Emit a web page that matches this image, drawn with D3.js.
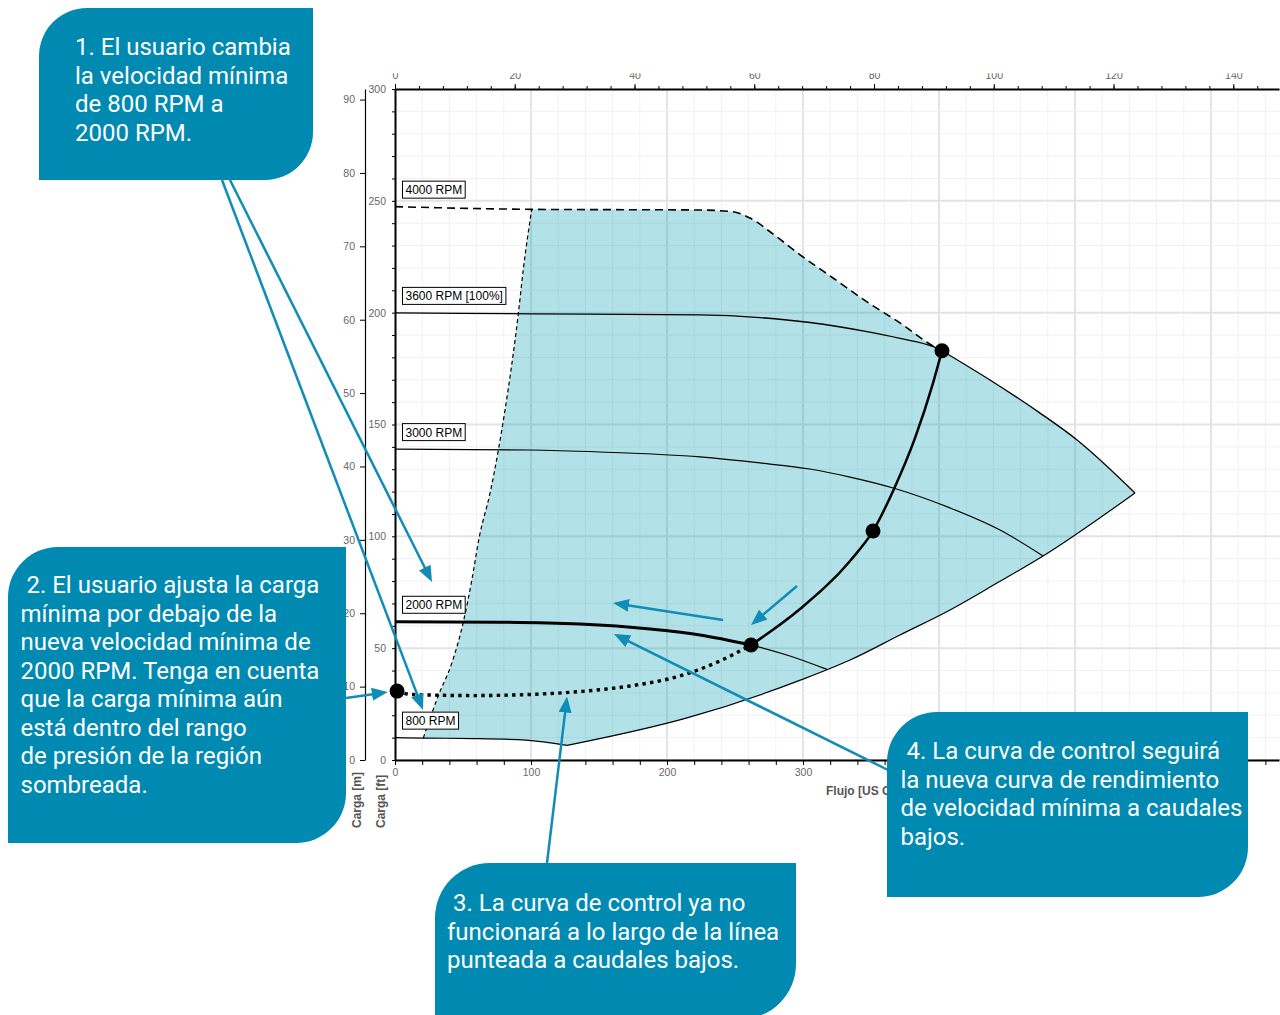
<!DOCTYPE html>
<html lang="es">
<head>
<meta charset="utf-8">
<title>Curva de control – velocidad mínima</title>
<script src="https://cdn.jsdelivr.net/npm/d3@7/dist/d3.min.js"></script>
<style>
  html, body { margin: 0; padding: 0; background: #ffffff; }
  svg { display: block; }
  .tick text { fill: #666; font: 10.5px "Liberation Sans", Arial, sans-serif; }
</style>
</head>
<body>
<svg id="chart" width="1280" height="1015"></svg>
<script>
// ---------- Data: flow in US GPM, head in ft ----------
const curve4000 = [[0,247.4],[100.5,246.2],[224.3,245.9],[248.5,245.1],[261.0,242.3],[280.9,233.8],[300.0,224.9],[322.1,215.5],[347.1,204.8],[371.3,195.4],[395.6,185.1],[402.2,183.0]];
const curve3600 = [[0,199.9],[100.7,199.5],[224.3,199.0],[268.4,197.8],[305.1,195.6],[347.1,191.5],[371.3,188.5],[395.8,184.8],[402.2,183.0]];
const rightLimit = [[402.2,183.0],[437.5,169.9],[474.3,155.1],[501.5,143.1],[544.1,119.4]];
const curve3000 = [[0,139.0],[99.3,138.6],[150.7,137.7],[224.3,135.5],[268.4,132.8],[305.1,130.1],[334.6,126.5],[367.6,121.4],[408.1,112.7],[444.9,102.8],[476.5,91.2]];
const curve2000 = [[0,61.8],[77.2,61.6],[136.0,60.8],[187.5,58.6],[224.3,55.9],[261.8,51.4],[290.4,46.5],[317.6,40.5]];
const curve800  = [[0,10.0],[20.8,9.8],[57.4,9.6],[96.3,8.9],[126.5,6.5]];
const minFlow   = [[20.8,9.8],[31.8,28.7],[41.7,43.2],[50.2,61.6],[56.5,80.5],[62.0,99.8],[69.9,119.4],[76.0,138.6],[80.9,156.5],[90.7,199.7],[94.3,219.1],[100.5,246.2]];
const lowLimit  = [[126.5,6.5],[214.7,18.8],[298.5,35.8],[334.6,44.7],[371.3,55.9],[408.1,67.1],[442.6,79.1],[476.5,91.2],[544.1,119.4]];
const controlCurve = [[261.8,51.4],[297.8,67.5],[334.6,89.0],[351.5,102.4],[366.9,121.2],[382.4,144.0],[395.6,168.5],[402.2,183.0]];
const oldControl   = [[1.5,30.8],[12.5,29.3],[57.4,28.8],[99.3,29.3],[136.0,30.6],[172.8,33.1],[209.6,37.6],[239.0,44.3],[261.8,51.4]];
const controlPoints = [[1.5,30.8],[261.8,51.4],[351.5,102.4],[402.2,183.0]];
const rpmLabels = ["4000 RPM", "3600 RPM [100%]", "3000 RPM", "2000 RPM", "800 RPM"];
const bottomTicks = [0, 100, 200, 300];
const topTicks = [0, 20, 40, 60, 80, 100, 120, 140];
const ftTicks = [0, 50, 100, 150, 200, 250, 300];
const mTicks = [0, 10, 20, 30, 40, 50, 60, 70, 80, 90];
const calloutTexts = [
  ["1. El usuario cambia", "la velocidad mínima", "de 800 RPM a", "2000 RPM."],
  [" 2. El usuario ajusta la carga", "mínima por debajo de la", "nueva velocidad mínima de", "2000 RPM. Tenga en cuenta", "que la carga mínima aún", "está dentro del rango", "de presión de la región", "sombreada."],
  [" 3. La curva de control ya no", "funcionará a lo largo de la línea", "punteada a caudales bajos."],
  [" 4. La curva de control seguirá", "la nueva curva de rendimiento", "de velocidad mínima a caudales", "bajos."]
];

// ---------- Scales ----------
const GPM_TO_M3H = 0.227125, FT_TO_M = 0.3048;
const plot = { left: 395, right: 1280, top: 89, bottom: 760 };
const x = d3.scaleLinear().domain([0, 650]).range([plot.left, plot.left + 650 * 1.36]);
const y = d3.scaleLinear().domain([0, 300]).range([plot.bottom, plot.top]);
const xm = d3.scaleLinear().domain(x.domain().map(v => v * GPM_TO_M3H)).range(x.range());
const ym = d3.scaleLinear().domain(y.domain().map(v => v * FT_TO_M)).range(y.range());

const svg = d3.select("#chart");
const defs = svg.append("defs");
defs.append("clipPath").attr("id", "plotClip").append("rect")
  .attr("x", plot.left).attr("y", plot.top)
  .attr("width", plot.right - plot.left).attr("height", plot.bottom - plot.top);
defs.append("clipPath").attr("id", "frameClip").append("rect")
  .attr("x", 0).attr("y", 73.3).attr("width", 1280).attr("height", 1015 - 73.3);

const arrowColor = "#0f8db6";
defs.append("marker").attr("id", "head")
  .attr("viewBox", "0 0 16 13").attr("refX", 8).attr("refY", 6.5)
  .attr("markerWidth", 16).attr("markerHeight", 13)
  .attr("markerUnits", "userSpaceOnUse").attr("orient", "auto")
  .append("path").attr("d", "M0,0L16,6.5L0,13Z").attr("fill", arrowColor);

const chart = svg.append("g").attr("clip-path", "url(#frameClip)");

// ---------- Grid ----------
const grid = chart.append("g").attr("clip-path", "url(#plotClip)");
grid.selectAll(null).data(d3.range(0, 661, 20)).join("line")
  .attr("x1", d => x(d)).attr("x2", d => x(d))
  .attr("y1", plot.top).attr("y2", plot.bottom)
  .attr("stroke", d => d % 100 === 0 ? "#e3e3e3" : "#f1f1f1")
  .attr("stroke-width", d => d % 100 === 0 ? 2 : 1);
grid.selectAll(null).data(d3.range(0, 301, 10)).join("line")
  .attr("y1", d => y(d)).attr("y2", d => y(d))
  .attr("x1", plot.left).attr("x2", plot.right)
  .attr("stroke", d => d % 50 === 0 ? "#e3e3e3" : "#f1f1f1")
  .attr("stroke-width", d => d % 50 === 0 ? 2 : 1);

// ---------- Operating region ----------
const line = d3.line().x(d => x(d[0])).y(d => y(d[1])).curve(d3.curveMonotoneX);
function joinSegments(segs) {
  return segs.map((s, i) => { const d = line(s); return i ? "L" + d.slice(1) : d; }).join("") + "Z";
}
const qTopStart = minFlow[minFlow.length - 1][0];
const region = joinSegments([
  minFlow,
  curve4000.filter(p => p[0] >= qTopStart),
  rightLimit,
  lowLimit.slice().reverse(),
  curve800.filter(p => p[0] >= minFlow[0][0]).reverse()
]);
grid.append("path").attr("d", region)
  .attr("fill", "rgb(0,155,178)").attr("fill-opacity", 0.3);

// ---------- Curves ----------
const curves = chart.append("g").attr("clip-path", "url(#plotClip)")
  .attr("fill", "none").attr("stroke", "#000");
curves.append("path").attr("d", line(curve4000)).attr("stroke-width", 1.6).attr("stroke-dasharray", "8,5");
curves.append("path").attr("d", line(curve3600)).attr("stroke-width", 1.3);
curves.append("path").attr("d", line(rightLimit)).attr("stroke-width", 1.3);
curves.append("path").attr("d", line(curve3000)).attr("stroke-width", 1.2);
curves.append("path").attr("d", line(curve2000)).attr("stroke-width", 1.2);
curves.append("path").attr("d", line(curve2000.filter(p => p[0] <= controlCurve[0][0]))).attr("stroke-width", 3);
curves.append("path").attr("d", line(curve800)).attr("stroke-width", 1.2);
curves.append("path").attr("d", line(minFlow)).attr("stroke-width", 1.2).attr("stroke-dasharray", "4,3");
curves.append("path").attr("d", line(lowLimit)).attr("stroke-width", 1.2);
curves.append("path").attr("d", line(controlCurve)).attr("stroke-width", 2.5);
curves.append("path").attr("d", line(oldControl)).attr("stroke-width", 3.4).attr("stroke-dasharray", "3.4,4.3");

// ---------- Axes ----------
function styleAxis(g, domainWidth) {
  g.select(".domain").attr("stroke", "#000").attr("stroke-width", domainWidth);
  g.selectAll(".tick line").attr("stroke", "#000");
}

// bottom: US GPM
chart.append("g").attr("transform", `translate(0,${plot.bottom})`)
  .call(d3.axisBottom(x).tickValues(d3.range(0, 661, 20)).tickFormat(d => bottomTicks.includes(d) ? d : "")
    .tickSize(5).tickSizeOuter(0).tickPadding(4))
  .call(g => styleAxis(g, 2));

// top: m³/h
chart.append("g").attr("transform", `translate(0,${plot.top})`)
  .call(d3.axisTop(xm).tickValues(d3.range(0, 149, 4)).tickFormat("").tickSize(3).tickSizeOuter(0))
  .call(g => styleAxis(g, 2));
chart.append("g").attr("transform", `translate(0,${plot.top})`)
  .call(d3.axisTop(xm).tickValues(topTicks).tickSize(5).tickPadding(4.6))
  .call(g => { g.select(".domain").remove(); g.selectAll(".tick line").attr("stroke", "#000"); });

// left: ft
chart.append("g").attr("transform", `translate(${plot.left},0)`)
  .call(d3.axisLeft(y).tickValues(d3.range(0, 301, 10)).tickFormat(d => ftTicks.includes(d) ? d : "")
    .tickSize(3).tickSizeOuter(0).tickPadding(6))
  .call(g => styleAxis(g, 2));

// far left: m
chart.append("g").attr("transform", "translate(365,0)")
  .call(d3.axisLeft(ym).tickValues(mTicks).tickSize(5).tickSizeOuter(0).tickPadding(5))
  .call(g => styleAxis(g, 1.2));

// axis titles
const titleStyle = sel => sel.attr("fill", "#555").attr("font-weight", "bold")
  .attr("font-family", "'Liberation Sans', Arial, sans-serif").attr("font-size", 12);
chart.append("text").attr("transform", "translate(361,828) rotate(-90)").text("Carga [m]").call(titleStyle);
chart.append("text").attr("transform", "translate(385,828) rotate(-90)").text("Carga [ft]").call(titleStyle);
chart.append("text").attr("x", 826).attr("y", 795).text("Flujo [US GPM]").call(titleStyle);

// ---------- Speed labels ----------
[curve4000, curve3600, curve3000, curve2000, curve800].forEach((c, i) => {
  const top = y(c[0][1]) - 25.5;
  const g = chart.append("g");
  const t = g.append("text").attr("x", plot.left + 10.5).attr("y", top + 13)
    .attr("font-family", "'Liberation Sans', Arial, sans-serif").attr("font-size", 12)
    .attr("fill", "#000").text(rpmLabels[i]);
  const w = t.node().getComputedTextLength();
  g.insert("rect", "text").attr("x", plot.left + 7.5).attr("y", top)
    .attr("width", w + 6).attr("height", 17)
    .attr("fill", "#fff").attr("stroke", "#000").attr("stroke-width", 1);
});

// ---------- Operating points ----------
chart.append("g").selectAll("circle").data(controlPoints).join("circle")
  .attr("cx", d => x(d[0])).attr("cy", d => y(d[1])).attr("r", 7.5).attr("fill", "#000");

// ---------- Annotation arrows (tips in flow/head units) ----------
const arrows = [
  { from: [222, 180], tip: [20.6, 22.4] },
  { from: [230, 180], tip: [27.2, 79.6] },
  { from: [346, 698], tip: [-5.3, 30.4] },
  { from: [547, 863], tip: [126.5, 28.4] },
  { from: [888, 770], tip: [161.0, 56.3] },
  { tip: [160.3, 70.2], fromData: [241.2, 62.6] },
  { tip: [261.8, 60.4], fromData: [295.6, 77.8] }
];
const arrowLayer = svg.append("g");
arrows.forEach(a => {
  const [x0, y0] = a.fromData ? [x(a.fromData[0]), y(a.fromData[1])] : a.from;
  const x1 = x(a.tip[0]), y1 = y(a.tip[1]);
  const len = Math.hypot(x1 - x0, y1 - y0);
  const ux = (x1 - x0) / len, uy = (y1 - y0) / len;
  arrowLayer.append("line")
    .attr("x1", x0).attr("y1", y0)
    .attr("x2", x1 - ux * 8).attr("y2", y1 - uy * 8)
    .attr("stroke", arrowColor).attr("stroke-width", 2.5)
    .attr("marker-end", "url(#head)");
});

// ---------- Callout boxes ----------
const boxLayout = [
  { x: 39,  y: 8,   w: 274, h: 172, r: 48, tx: 75,    ty: 55 },
  { x: 8,   y: 547, w: 338, h: 296, r: 50, tx: 20.5,  ty: 593 },
  { x: 435, y: 863, w: 361, h: 156, r: 55, tx: 447,   ty: 911 },
  { x: 887, y: 712, w: 361, h: 185, r: 50, tx: 900.5, ty: 759 }
];
function calloutPath(b) {
  return `M${b.x + b.r},${b.y}H${b.x + b.w}V${b.y + b.h - b.r}` +
         `A${b.r},${b.r} 0 0 1 ${b.x + b.w - b.r},${b.y + b.h}` +
         `H${b.x}V${b.y + b.r}A${b.r},${b.r} 0 0 1 ${b.x + b.r},${b.y}Z`;
}
const calloutLayer = svg.append("g");
boxLayout.forEach((b, i) => {
  calloutLayer.append("path").attr("d", calloutPath(b)).attr("fill", "#008ab2");
  calloutLayer.append("g").selectAll("text").data(calloutTexts[i]).join("text")
    .attr("x", b.tx).attr("y", (d, j) => b.ty + j * 28.5)
    .attr("fill", "#fff").attr("font-family", "Roboto, 'Open Sans', sans-serif")
    .attr("font-size", 24).style("white-space", "pre")
    .text(d => d);
});
</script>
</body>
</html>
